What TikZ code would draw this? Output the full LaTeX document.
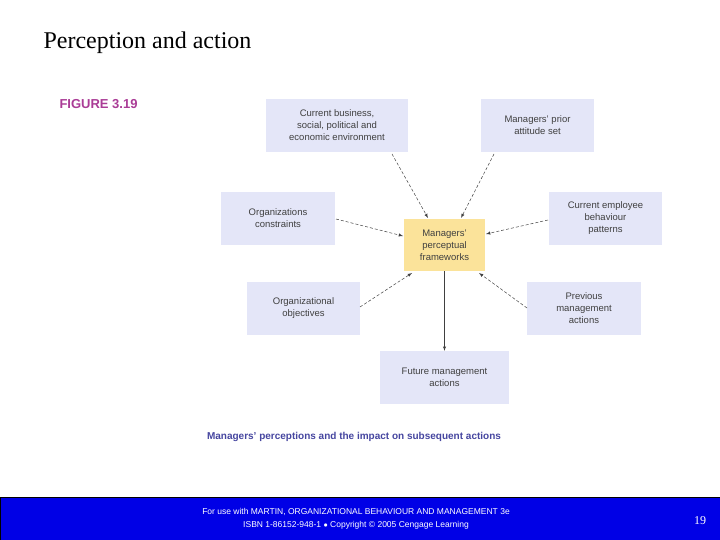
\documentclass[tikz,border=0pt]{standalone}
\usepackage{fontspec}
\setsansfont{Liberation Sans}
\setmainfont{Liberation Serif}
\begin{document}
\begin{tikzpicture}[x=1pt,y=-1pt,
  box/.style={fill=lav,inner sep=0pt,align=center,font=\sffamily\fontsize{9.5}{12}\selectfont,text=black!75},
  arr/.style={-latex,densely dashed,black!75,line width=0.5pt}]
\definecolor{lav}{HTML}{E4E6F8}
\definecolor{ctr}{HTML}{FBE39A}
\definecolor{bar}{HTML}{0000E6}
\useasboundingbox (0,0) rectangle (720,540);
\fill[white] (0,0) rectangle (720,540);
\node[anchor=west,font=\rmfamily\fontsize{24}{28}\selectfont] (title) at (40,43) {Perception and action};
\node[anchor=west,font=\sffamily\bfseries\fontsize{13}{15}\selectfont,text={rgb,255:red,170;green,60;blue,150}] (fig) at (56,104) {FIGURE 3.19};
\node[box,minimum width=142,minimum height=53] (cb) at (337,125.5) {Current business,\\social, political and\\economic environment};
\node[box,minimum width=113,minimum height=53] (pa) at (537.5,125.5) {Managers' prior\\attitude set};
\node[box,minimum width=114,minimum height=53] (oc) at (278,218.5) {Organizations\\constraints};
\node[box,fill=ctr,minimum width=81,minimum height=52] (c) at (444.5,245) {Managers'\\perceptual\\frameworks};
\node[box,minimum width=113,minimum height=53] (ce) at (605.5,218.5) {Current employee\\behaviour\\patterns};
\node[box,minimum width=113,minimum height=53] (oo) at (303.5,308.5) {Organizational\\objectives};
\node[box,minimum width=114,minimum height=53] (pm) at (584,308.5) {Previous\\management\\actions};
\node[box,minimum width=129,minimum height=53] (fa) at (444.5,377.5) {Future management\\actions};
\coordinate (a1) at (392,154); \coordinate (b1) at (428,218);
\coordinate (a2) at (494,154); \coordinate (b2) at (461,218);
\coordinate (a3) at (336,219); \coordinate (b3) at (403,236);
\coordinate (a4) at (548,220); \coordinate (b4) at (486,234);
\coordinate (a5) at (360,307); \coordinate (b5) at (412,273);
\coordinate (a6) at (527,308); \coordinate (b6) at (479,273);
\draw[arr] (a1) -- (b1);
\draw[arr] (a2) -- (b2);
\draw[arr] (a3) -- (b3);
\draw[arr] (a4) -- (b4);
\draw[arr] (a5) -- (b5);
\draw[arr] (a6) -- (b6);
\draw[arr,solid] (c.south) -- (fa.north);
\node[font=\sffamily\bfseries\fontsize{10}{12}\selectfont,text={rgb,255:red,70;green,70;blue,160}] (cap) at (354,437) {Managers' perceptions and the impact on subsequent actions};
\draw[fill=bar,draw=black] (0,497) rectangle (720,540);
\node[align=center,text=white,font=\sffamily\fontsize{8.5}{13}\selectfont] (foot) at (356,519) {For use with MARTIN, ORGANIZATIONAL BEHAVIOUR AND MANAGEMENT 3e\\ISBN 1-86152-948-1 $\bullet$ Copyright \textcopyright\ 2005 Cengage Learning};
\node[text=white,font=\rmfamily\fontsize{12}{14}\selectfont] (pg) at (700,521) {19};
\end{tikzpicture}
\end{document}
